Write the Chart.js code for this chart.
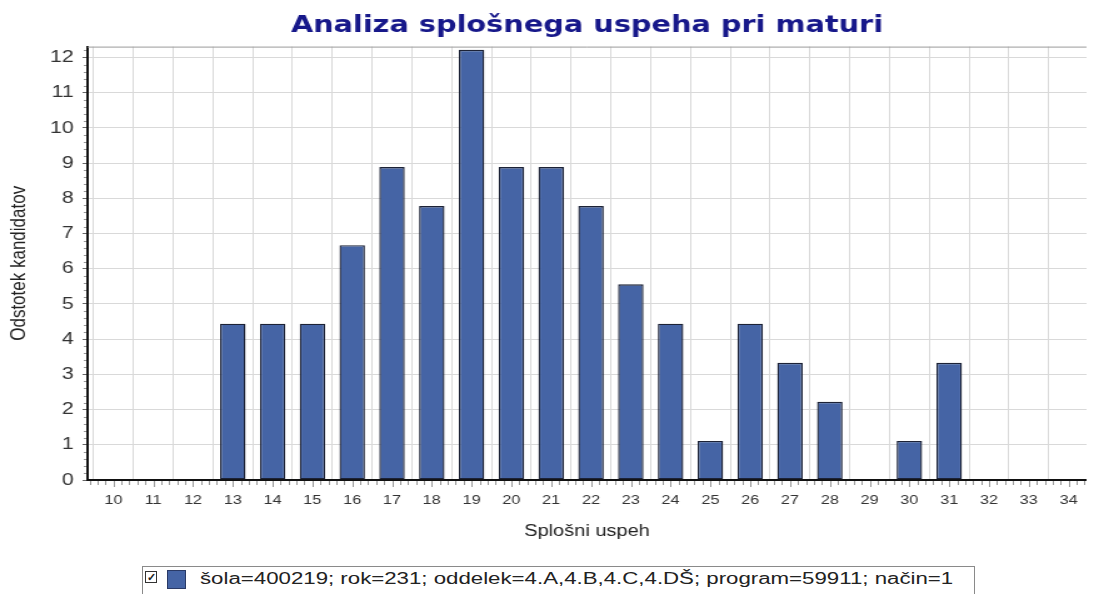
<!DOCTYPE html>
<html>
<head>
<meta charset="utf-8">
<script src="https://cdn.jsdelivr.net/npm/chart.js@4/dist/chart.umd.min.js"></script>
<style>
  body { margin: 0; background: #fff; font-family: Arial, 'Liberation Sans', sans-serif; overflow: hidden; }
  /* the original report is stretched sideways, so the chart is drawn narrow and widened */
  #wrap { position: absolute; left: 0; top: 0; width: 875px; height: 560px; transform: scaleX(1.2503); transform-origin: 0 0; }
  #legend {
    position: absolute; left: 142px; top: 566px; width: 833px; height: 40px;
    border: 1px solid #8a8a8a; box-sizing: border-box; color: #222;
  }
  #legend .chk {
    position: absolute; left: 2px; top: 4px; width: 10px; height: 10px;
    border: 1px solid #333; font-size: 11px; line-height: 10px; text-align: center; font-weight: bold;
  }
  #legend .sw {
    position: absolute; left: 24px; top: 3px; width: 19px; height: 19px;
    background: #4564a5; border: 1px solid #2a3a66; box-sizing: border-box;
  }
  #legend .txt {
    position: absolute; left: 57px; top: 3px; font-size: 16px; white-space: nowrap;
    transform: scaleX(1.39); transform-origin: 0 0;
  }
</style>
</head>
<body>
<div id="wrap"><canvas id="chart" width="875" height="560"></canvas></div>
<div id="legend"><span class="chk">✓</span><span class="sw"></span><span class="txt">šola=400219; rok=231; oddelek=4.A,4.B,4.C,4.DŠ; program=59911; način=1</span></div>
<script>
const categories = [10, 11, 12, 13, 14, 15, 16, 17, 18, 19, 20, 21, 22, 23, 24, 25, 26, 27, 28, 29, 30, 31, 32, 33, 34];
const percentages = [0, 0, 0, 4.44, 4.44, 4.44, 6.67, 8.89, 7.78, 12.22, 8.89, 8.89, 7.78, 5.56, 4.44, 1.11, 4.44, 3.33, 2.22, 0, 1.11, 3.33, 0, 0, 0];

const FONT = "Arial, 'Liberation Sans', sans-serif";

// small ticks between the integer ticks, like the original report
const minorTicks = {
    id: 'minorTicks',
    afterDraw(chart) {
        const ctx = chart.ctx;
        const area = chart.chartArea;
        const xs = chart.scales.x;
        const ys = chart.scales.y;
        ctx.save();
        ctx.lineWidth = 1;
        // top border of plot
        ctx.strokeStyle = '#9a9a9a';
        ctx.beginPath();
        ctx.moveTo(area.left, area.top + 0.5);
        ctx.lineTo(area.right, area.top + 0.5);
        ctx.stroke();
        ctx.strokeStyle = '#999';
        for (let v = Math.ceil(xs.min * 5); v <= xs.max * 5; v++) {
            const px = Math.round(xs.getPixelForValue(v / 5)) + 0.5;
            const len = v % 5 === 0 ? 6 : 4;
            ctx.beginPath();
            ctx.moveTo(px, area.bottom + 1);
            ctx.lineTo(px, area.bottom + 1 + len);
            ctx.stroke();
        }
        for (let v = 0; v <= ys.max * 5; v++) {
            if (v % 5 === 0) continue;
            const py = Math.round(ys.getPixelForValue(v / 5)) + 0.5;
            ctx.beginPath();
            ctx.moveTo(area.left - 3, py);
            ctx.lineTo(area.left - 1, py);
            ctx.stroke();
        }
        ctx.restore();
    }
};

new Chart(document.getElementById('chart'), {
    type: 'bar',
    data: {
        datasets: [{
            data: categories.map((c, i) => ({ x: c, y: percentages[i] })),
            backgroundColor: '#4564a5',
            borderColor: '#1c2236',
            borderWidth: 1.4,
            borderSkipped: false,
            barPercentage: 0.64,
            categoryPercentage: 1
        }]
    },
    options: {
        responsive: false,
        animation: false,
        layout: { padding: { left: 0, right: 2, top: 0, bottom: 0 } },
        plugins: {
            legend: { display: false },
            tooltip: { enabled: false },
            title: {
                display: true,
                fullSize: false,
                text: 'Analiza splošnega uspeha pri maturi',
                color: '#17188a',
                font: { family: "'DejaVu Sans', Arial, sans-serif", size: 23, weight: 'bold' },
                padding: { top: 12, bottom: 7 }
            }
        },
        scales: {
            x: {
                type: 'linear',
                offset: false,
                min: 9.35,
                max: 34.45,
                afterFit: s => { s.height = 80; },
                border: { color: '#111', width: 2 },
                grid: { color: '#d9d9d9', drawTicks: false },
                ticks: {
                    stepSize: 1,
                    includeBounds: false,
                    padding: 13,
                    color: '#333',
                    font: { family: FONT, size: 13 }
                },
                title: {
                    display: true,
                    text: 'Splošni uspeh',
                    color: '#222',
                    font: { family: FONT, size: 16 },
                    padding: { top: 0, bottom: 19 }
                }
            },
            y: {
                min: 0,
                max: 12.31,
                afterFit: s => { s.width = 70; },
                border: { color: '#111', width: 2 },
                grid: { color: '#d9d9d9', tickColor: '#666', tickLength: 4 },
                ticks: {
                    stepSize: 1,
                    includeBounds: false,
                    padding: 7,
                    color: '#333',
                    font: { family: FONT, size: 17 }
                },
                title: {
                    display: true,
                    text: 'Odstotek kandidatov',
                    color: '#222',
                    font: { family: FONT, size: 17 },
                    padding: { top: 5, bottom: 0 }
                }
            }
        }
    },
    plugins: [minorTicks]
});
</script>
</body>
</html>
